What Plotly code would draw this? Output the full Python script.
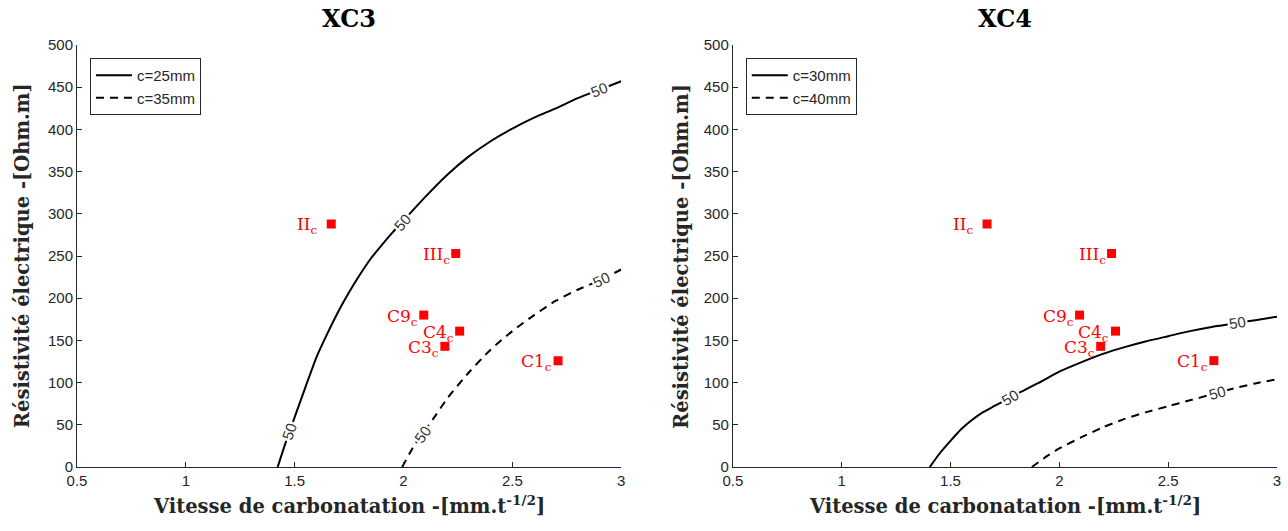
import plotly.graph_objects as go

# ---------------- data ----------------
pt_names = ["II", "III", "C9", "C4", "C3", "C1"]
pt_v = [1.668, 2.240, 2.093, 2.258, 2.190, 2.710]
pt_rho = [288, 253, 180, 161, 143, 126]

# XC3 iso-lines (50 years)
xc3_c25_v = [1.422, 1.46, 1.50, 1.55, 1.60, 1.65, 1.70, 1.75, 1.80, 1.85, 1.90, 1.95, 2.00,
             2.10, 2.20, 2.30, 2.40, 2.50, 2.60, 2.70, 2.80, 2.90, 3.00]
xc3_c25_rho = [0, 30, 59, 95, 130, 158, 184, 207, 228, 247, 263, 278, 292,
               320, 346, 368, 386, 401, 414, 425, 437, 447, 457]
xc3_c35_v = [1.994, 2.05, 2.10, 2.15, 2.20, 2.30, 2.40, 2.50, 2.60, 2.70, 2.80, 2.90, 3.00]
xc3_c35_rho = [0, 26, 44, 62, 81, 112, 139, 161, 180, 197, 210, 221, 234]

# XC4 iso-lines (50 years)
xc4_c30_v = [1.405, 1.45, 1.50, 1.55, 1.60, 1.65, 1.70, 1.75, 1.80, 1.90, 2.00, 2.10, 2.20,
             2.30, 2.40, 2.50, 2.60, 2.70, 2.80, 2.90, 3.00]
xc4_c30_rho = [0, 16, 31, 45, 56, 65, 72, 79, 86, 99, 113, 124, 134,
               142, 149, 155, 161, 166, 170, 174, 178]
xc4_c40_v = [1.874, 1.95, 2.00, 2.10, 2.20, 2.30, 2.40, 2.50, 2.60, 2.70, 2.80, 2.90, 3.00]
xc4_c40_rho = [0, 14, 22, 35, 47, 57, 65, 72, 79, 86, 93, 99, 104]

panel_titles = ["XC3", "XC4"]
legend_names = [["c=25mm", "c=35mm"], ["c=30mm", "c=40mm"]]
contour_level = "50"

# contour label positions (v, rho, angle)
label_pos = [
    [(1.475, 42, -71), (1.994, 290, -48), (2.902, 447, -22), (2.086, 39, -55), (2.910, 222, -25)],
    [(1.774, 82, -31), (2.820, 171, -9), (2.728, 88, -16)],
]

x_ticks = [0.5, 1, 1.5, 2, 2.5, 3]
x_ticklabels = ["0.5", "1", "1.5", "2", "2.5", "3"]
y_ticks = [0, 50, 100, 150, 200, 250, 300, 350, 400, 450, 500]

# ---------------- styling ----------------
W, H = 1288, 531
ML, MR, MT, MB = 77, 7, 45, 64
AXC = "#262626"
SANS = "Liberation Sans, Arial, sans-serif"
TICKFONT = dict(family=SANS, size=15, color=AXC)
SERIF = "DejaVu Serif, serif"
label_xshift = {"II": -12}

fig = go.Figure()

curves = [
    [(xc3_c25_v, xc3_c25_rho), (xc3_c35_v, xc3_c35_rho)],
    [(xc4_c30_v, xc4_c30_rho), (xc4_c40_v, xc4_c40_rho)],
]
axes = [("x", "y"), ("x2", "y2")]
legends = ["legend", "legend2"]

for p in range(2):
    xa, ya = axes[p]
    for k, (vv, rr) in enumerate(curves[p]):
        fig.add_trace(go.Scatter(
            x=vv, y=rr, mode="lines", xaxis=xa, yaxis=ya,
            name=legend_names[p][k], legend=legends[p],
            line=dict(color="black", width=2, shape="spline", smoothing=0.6,
                      dash="solid" if k == 0 else "8px,6px"),
        ))
    fig.add_trace(go.Scatter(
        x=pt_v, y=pt_rho, mode="markers", xaxis=xa, yaxis=ya, showlegend=False,
        marker=dict(symbol="square", size=9, color="red"),
    ))

annotations = []
for p in range(2):
    xa, ya = axes[p]
    for (lx, ly, ang) in label_pos[p]:
        annotations.append(dict(
            x=lx, y=ly, xref=xa, yref=ya, text=contour_level, showarrow=False,
            textangle=ang, bgcolor="white", borderpad=1,
            font=dict(family=SANS, size=15, color="#333333"),
        ))
    for name, v, r in zip(pt_names, pt_v, pt_rho):
        annotations.append(dict(
            x=v, y=r, xref=xa, yref=ya, text=f"{name}<sub>c</sub>", showarrow=False,
            xanchor="right", yanchor="middle", xshift=label_xshift.get(name, -4), yshift=-2,
            font=dict(family=SERIF, size=17, color="red"),
        ))

pw = W - ML - MR
ph = H - MT - MB
dom1 = [0, 546 / pw]
dom2 = [(735 - ML) / pw, 1]

for p, dom in enumerate([dom1, dom2]):
    cx = (dom[0] + dom[1]) / 2
    annotations.append(dict(
        x=cx, y=1 + 27 / ph, xref="paper", yref="paper", text=panel_titles[p],
        showarrow=False, xanchor="center", yanchor="middle",
        font=dict(family=SERIF, size=24, color="black", weight="bold"),
    ))
    annotations.append(dict(
        x=cx, y=-38 / ph, xref="paper", yref="paper",
        text="Vitesse de carbonatation -[mm.t<sup>-1/2</sup>]",
        showarrow=False, xanchor="center", yanchor="middle",
        font=dict(family=SERIF, size=19.5, color=AXC, weight="bold"),
    ))
    yx = (22 - ML) / pw if p == 0 else (683 - ML) / pw
    annotations.append(dict(
        x=yx, y=0.5, xref="paper", yref="paper", text="Résistivité électrique -[Ohm.m]",
        showarrow=False, xanchor="center", yanchor="middle", textangle=-90,
        font=dict(family=SERIF, size=19.5, color=AXC, weight="bold"),
    ))

axis_common = dict(showline=True, linecolor=AXC, linewidth=1, ticks="inside", ticklen=5,
                   tickcolor=AXC, tickwidth=1, showgrid=False, zeroline=False,
                   tickfont=TICKFONT, mirror=False)

legend_common = dict(bgcolor="white", bordercolor=AXC, borderwidth=1,
                     font=dict(family=SANS, size=15, color=AXC),
                     xanchor="left", yanchor="top", tracegroupgap=0, itemwidth=36)

fig.update_layout(
    width=W, height=H, autosize=False,
    margin=dict(l=ML, r=MR, t=MT, b=MB),
    plot_bgcolor="white", paper_bgcolor="white",
    xaxis=dict(domain=dom1, range=[0.5, 3], tickvals=x_ticks, ticktext=x_ticklabels, anchor="y", **axis_common),
    yaxis=dict(domain=[0, 1], range=[0, 500], tickvals=y_ticks, anchor="x", **axis_common),
    xaxis2=dict(domain=dom2, range=[0.5, 3], tickvals=x_ticks, ticktext=x_ticklabels, anchor="y2", **axis_common),
    yaxis2=dict(domain=[0, 1], range=[0, 500], tickvals=y_ticks, anchor="x2", **axis_common),
    legend=dict(x=(90 - ML) / pw, y=1 - (58 - MT) / ph, **legend_common),
    legend2=dict(x=(748 - ML) / pw, y=1 - (58 - MT) / ph, **legend_common),
    annotations=annotations,
    showlegend=True,
)

fig.write_html("out.html", config={"displayModeBar": False},
               post_script="document.body.style.margin='0';document.body.style.overflow='hidden';")
